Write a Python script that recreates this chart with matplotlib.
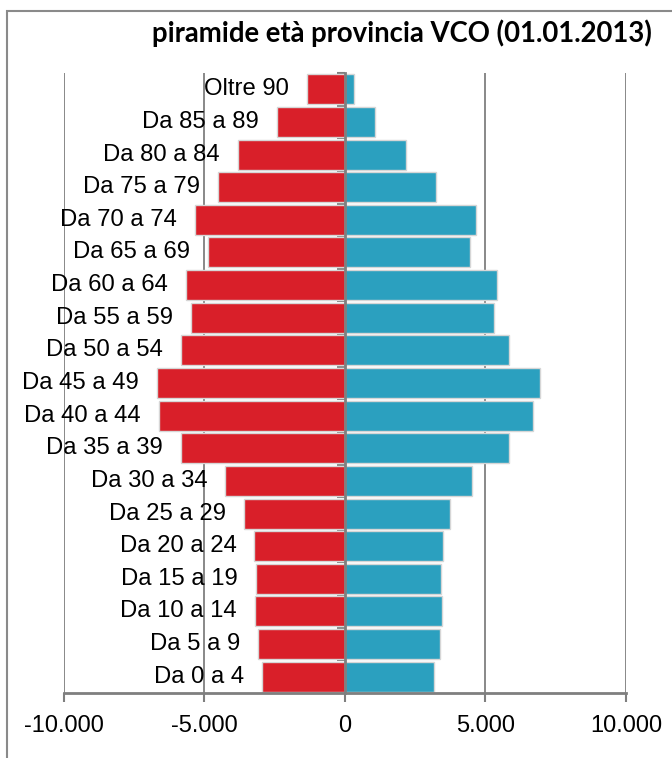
import matplotlib
matplotlib.use("Agg")
import matplotlib.pyplot as plt
from matplotlib.ticker import FuncFormatter, FixedLocator
from matplotlib.patches import Rectangle

# Age classes, youngest first
age_classes = [
    "Da 0 a 4", "Da 5 a 9", "Da 10 a 14", "Da 15 a 19", "Da 20 a 24",
    "Da 25 a 29", "Da 30 a 34", "Da 35 a 39", "Da 40 a 44", "Da 45 a 49",
    "Da 50 a 54", "Da 55 a 59", "Da 60 a 64", "Da 65 a 69", "Da 70 a 74",
    "Da 75 a 79", "Da 80 a 84", "Da 85 a 89", "Oltre 90",
]
# Residents per age class (males drawn to the left, females to the right)
males = [2950, 3070, 3190, 3170, 3210, 3570, 4250, 5830, 6600, 6690,
         5810, 5450, 5630, 4860, 5330, 4520, 3810, 2410, 1340]
females = [3190, 3400, 3450, 3420, 3500, 3740, 4520, 5850, 6690, 6940,
           5840, 5300, 5410, 4450, 4670, 3250, 2170, 1080, 340]

x_ticks = [-10000, -5000, 0, 5000, 10000]

TITLE = "piramide età provincia VCO (01.01.2013)"
RED = "#D91F29"
BLUE = "#2BA0BF"
GREY = "#7F7F7F"

W, H = 672, 758
fig = plt.figure(figsize=(W / 100, H / 100), dpi=100)

# outer chart-area frame
fig.add_artist(Rectangle((7 / W, -0.1), 1.2, (H - 11) / H + 0.1,
                         transform=fig.transFigure, fill=False,
                         edgecolor="#8A8A8A", linewidth=1.5))

ax = fig.add_axes([63.5 / W, (H - 693) / H, (626 - 63.5) / W, (693 - 73) / H])

y = list(range(len(age_classes)))
neg_males = [-v for v in males]
ax.barh(y, neg_males, height=0.92, color=RED, edgecolor="#D6D6D6",
        linewidth=1.0, zorder=3)
ax.barh(y, females, height=0.92, color=BLUE, edgecolor="#D6D6D6",
        linewidth=1.0, zorder=3)

# category names sit just outside the end of the left bars
for yi, name, v in zip(y, age_classes, neg_males):
    ax.annotate(name, xy=(v, yi), xytext=(-13, 0), textcoords="offset points",
                ha="right", va="center", fontsize=17.2,
                family="Liberation Sans", color="black", zorder=6)

ax.set_xlim(-10000, 10000)
ax.set_ylim(-0.5, len(age_classes) - 0.5)

# vertical grid lines behind the bars
for xv in x_ticks:
    if xv != 0:
        ax.axvline(xv, color=GREY, linewidth=1.3, zorder=1)

for side in ("top", "right"):
    ax.spines[side].set_visible(False)
ax.spines["left"].set_position(("data", 0))
for side in ("left", "bottom"):
    ax.spines[side].set_color(GREY)
    ax.spines[side].set_linewidth(2.0)
    ax.spines[side].set_zorder(5)

ax.xaxis.set_major_locator(FixedLocator(x_ticks))
ax.xaxis.set_major_formatter(
    FuncFormatter(lambda v, p: f"{int(v):,}".replace(",", ".")))
ax.tick_params(axis="x", direction="out", length=6.5, width=1.5, color=GREY,
               pad=9, labelsize=17)
for lab in ax.get_xticklabels():
    lab.set_family("Liberation Sans")

ax.yaxis.set_major_locator(FixedLocator([i + 0.5 for i in range(-1, len(age_classes))]))
ax.yaxis.set_ticklabels([])
ax.tick_params(axis="y", direction="out", length=6, width=1.5, color=GREY)

fig.text(402 / W, 1 - 33 / H, TITLE, ha="center", va="center",
         fontsize=19.8, fontweight="bold", family="Lato")

fig.savefig("out.png", dpi=100)
